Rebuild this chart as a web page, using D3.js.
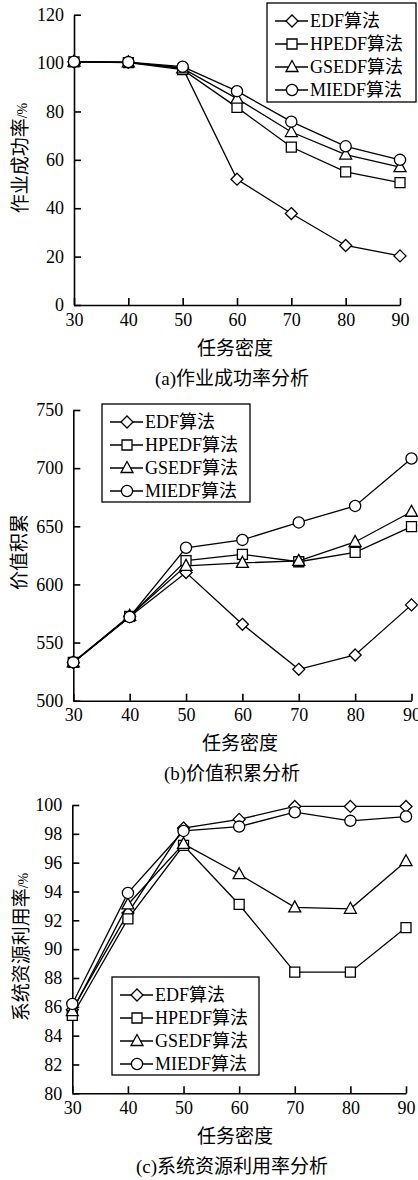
<!DOCTYPE html>
<html>
<head>
<meta charset="utf-8">
<script src="https://cdn.jsdelivr.net/npm/d3@7"></script>
<style>
  body { margin: 0; background: #fff; }
  svg { display: block; }
  text { font-family: "Liberation Serif", "Noto Sans CJK SC", serif; fill: #000; }
</style>
</head>
<body>
<svg id="chart" width="418" height="1180"></svg>
<script>
// task density (x) shared by all three panels
const densities = [30, 40, 50, 60, 70, 80, 90];
const seriesNames = ["EDF算法", "HPEDF算法", "GSEDF算法", "MIEDF算法"];
const markerKinds = ["diamond", "square", "triangle", "circle"];

// (a) job success rate, %
const rateEDF   = [100.5, 100.3, 98.0, 52.0, 37.8, 24.6, 20.3];
const rateHPEDF = [100.5, 100.2, 97.3, 81.7, 65.3, 55.0, 50.6];
const rateGSEDF = [100.6, 100.3, 97.8, 85.3, 71.5, 62.2, 57.0];
const rateMIEDF = [100.6, 100.4, 98.5, 88.4, 75.8, 65.6, 60.0];
const rateTicks = [0, 20, 40, 60, 80, 100, 120];

// (b) accumulated value
const valueEDF   = [532.7, 572.3, 610.2, 565.7, 527.0, 539.3, 582.4];
const valueHPEDF = [533.0, 572.5, 620.5, 625.8, 619.5, 627.5, 649.7];
const valueGSEDF = [533.0, 573.0, 616.0, 618.5, 620.2, 636.5, 662.5];
const valueMIEDF = [533.0, 572.0, 631.5, 638.3, 653.3, 667.5, 708.3];
const valueTicks = [500, 550, 600, 650, 700, 750];

// (c) system resource utilisation, %
const utilEDF   = [85.8, 92.5, 98.4, 99.0, 99.9, 99.9, 99.9];
const utilHPEDF = [85.4, 92.1, 97.2, 93.1, 88.4, 88.4, 91.5];
const utilGSEDF = [85.7, 93.1, 97.3, 95.2, 92.9, 92.8, 96.1];
const utilMIEDF = [86.2, 93.9, 98.2, 98.5, 99.5, 98.9, 99.2];
const utilTicks = [80, 82, 84, 86, 88, 90, 92, 94, 96, 98, 100];

const svg = d3.select("#chart");

function markerPath(kind){
    if(kind == "diamond") return "M0,-6L6,0L0,6L-6,0Z";
    if(kind == "square") return "M-5,-5H5V5H-5Z";
    if(kind == "triangle") return "M0,-6.5L6,4.5H-6Z";
    return d3.arc()({innerRadius: 0, outerRadius: 5.6, startAngle: 0, endAngle: 2 * Math.PI});
}

function drawPanel(p){
    let g = svg.append("g");
    let x = d3.scaleLinear().domain([30, 90]).range(p.xRange);
    let y = d3.scaleLinear().domain(d3.extent(p.ticks)).range(p.yRange);

    // axes with inward ticks
    let xa = g.append("g").attr("transform", `translate(0,${p.yRange[0]})`)
        .call(d3.axisBottom(x).tickValues(densities).tickSizeInner(-7).tickSizeOuter(0).tickPadding(8));
    let ya = g.append("g").attr("transform", `translate(${p.xRange[0]},0)`)
        .call(d3.axisLeft(y).tickValues(p.ticks).tickSizeInner(-7).tickSizeOuter(0).tickPadding(10));
    [xa, ya].forEach(a => {
        a.attr("font-family", null).attr("font-size", null);
        a.selectAll("path, line").attr("stroke", "#000").attr("stroke-width", 1.6);
        a.selectAll("text").style("font-size", "18px");
    });

    let line = d3.line().x((d, i) => x(densities[i])).y(d => y(d));
    p.series.forEach((s, k) => {
        g.append("path").datum(s).attr("d", line)
            .attr("fill", "none").attr("stroke", "#000").attr("stroke-width", 1.3);
        g.selectAll(null).data(s).join("path")
            .attr("transform", (d, i) => `translate(${x(densities[i])},${y(d)})`)
            .attr("d", markerPath(markerKinds[k]))
            .attr("fill", "#fff").attr("stroke", "#000").attr("stroke-width", 1.3);
    });

    // legend
    let L = p.legend;
    g.append("rect").attr("x", L.x).attr("y", L.y).attr("width", L.w).attr("height", L.h)
        .attr("fill", "#fff").attr("stroke", "#000").attr("stroke-width", 1.3);
    seriesNames.forEach((name, k) => {
        let ry = L.y + 18 + k * 23;
        g.append("line").attr("x1", L.x + 8).attr("x2", L.x + 41).attr("y1", ry).attr("y2", ry)
            .attr("stroke", "#000").attr("stroke-width", 1.3);
        g.append("path").attr("transform", `translate(${L.x + 25},${ry})`)
            .attr("d", markerPath(markerKinds[k]))
            .attr("fill", "#fff").attr("stroke", "#000").attr("stroke-width", 1.3);
        g.append("text").attr("x", L.x + 43).attr("y", ry).attr("dy", "0.35em")
            .style("font-size", "18px").text(name);
    });

    // titles
    let yt = g.append("text").attr("text-anchor", "middle").attr("dy", "0.35em")
        .attr("transform", `translate(${p.yTitle.x},${p.yTitle.y}) rotate(-90)`)
        .style("font-size", "19px");
    yt.append("tspan").text(p.yTitle.text);
    if(p.yTitle.unit) yt.append("tspan").style("font-size", "14px").text(p.yTitle.unit);

    g.append("text").attr("x", p.xTitleX).attr("y", p.yRange[0] + 43).attr("dy", "0.35em")
        .attr("text-anchor", "middle").style("font-size", "19px").text("任务密度");
    g.append("text").attr("x", 232).attr("y", p.yRange[0] + 73).attr("dy", "0.35em")
        .attr("text-anchor", "middle").style("font-size", "19px").text(p.caption);
}

drawPanel({
    xRange: [74, 400], yRange: [305, 14.7], ticks: rateTicks,
    series: [rateEDF, rateHPEDF, rateGSEDF, rateMIEDF],
    legend: {x: 267, y: 3, w: 149, h: 99},
    yTitle: {x: 20, y: 158, text: "作业成功率", unit: "/%"},
    xTitleX: 235, caption: "(a)作业成功率分析"
});
drawPanel({
    xRange: [73.3, 411.5], yRange: [700.7, 410], ticks: valueTicks,
    series: [valueEDF, valueHPEDF, valueGSEDF, valueMIEDF],
    legend: {x: 102, y: 404, w: 148, h: 98},
    yTitle: {x: 19, y: 552, text: "价值积累", unit: ""},
    xTitleX: 240, caption: "(b)价值积累分析"
});
drawPanel({
    xRange: [72.3, 406], yRange: [1093.3, 805], ticks: utilTicks,
    series: [utilEDF, utilHPEDF, utilGSEDF, utilMIEDF],
    legend: {x: 112, y: 977, w: 147, h: 98},
    yTitle: {x: 21, y: 947, text: "系统资源利用率", unit: "/%"},
    xTitleX: 235, caption: "(c)系统资源利用率分析"
});
</script>
</body>
</html>
